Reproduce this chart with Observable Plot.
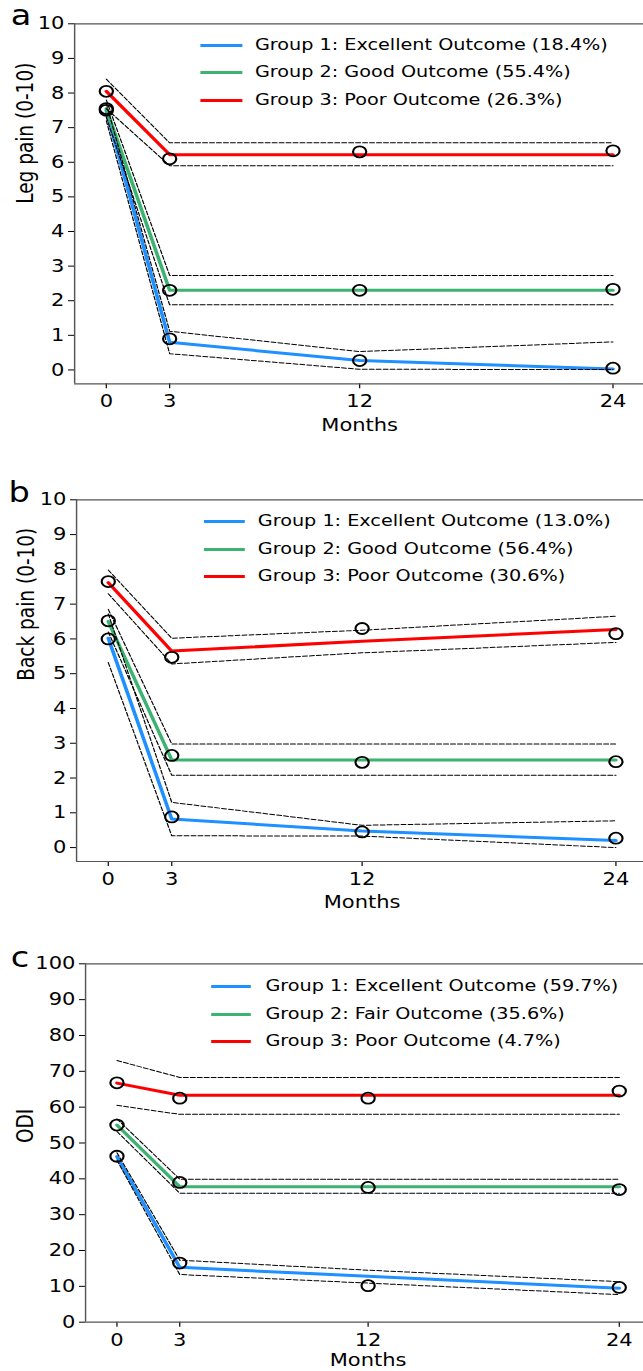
<!DOCTYPE html>
<html><head><meta charset="utf-8">
<script src="https://cdn.jsdelivr.net/npm/d3@7"></script>
<script src="https://cdn.jsdelivr.net/npm/@observablehq/plot@0.6"></script>
<style>
html,body{margin:0;padding:0;background:#fff;overflow:hidden;}
#outer{position:relative;width:643px;height:1371px;overflow:hidden;background:#fff;}
#stretch{position:absolute;left:0;top:0;width:535.83px;height:1371px;transform:scaleX(1.2);transform-origin:0 0;font-family:"DejaVu Sans";}
.panel{position:absolute;left:0;}
.panel svg{overflow:visible;}
.legend-row{position:absolute;display:flex;align-items:center;height:20px;font-size:16px;white-space:nowrap;color:#000;font-family:"DejaVu Sans";}
.swatch{display:inline-block;height:3px;}
.letter{position:absolute;font-size:28px;line-height:1;color:#000;font-family:"DejaVu Sans";}
</style></head><body>
<div id="outer"><div id="stretch"></div></div>
<script>
const months = [0, 3, 12, 24];
const groups = ["Group 1", "Group 2", "Group 3"];
const colors = ["#1e90ff", "#3cb371", "#ff0000"];

// Panel a: Leg pain
const legFit = [[7.5, 0.8, 0.27, 0.03], [7.55, 2.3, 2.3, 2.3], [8.05, 6.22, 6.22, 6.22]];
const legObs = [[7.5, 0.9, 0.27, 0.05], [7.55, 2.3, 2.3, 2.33], [8.05, 6.1, 6.3, 6.33]];
const legLo = [[7.2, 0.47, 0.02, 0.01], [7.3, 1.88, 1.88, 1.88], [7.55, 5.9, 5.9, 5.9]];
const legHi = [[7.7, 1.12, 0.53, 0.81], [7.8, 2.73, 2.73, 2.73], [8.4, 6.56, 6.56, 6.56]];
const legLabels = ["Group 1: Excellent Outcome (18.4%)", "Group 2: Good Outcome (55.4%)", "Group 3: Poor Outcome (26.3%)"];

// Panel b: Back pain
const backFit = [[6.02, 0.82, 0.48, 0.2], [6.5, 2.52, 2.52, 2.52], [7.62, 5.65, 5.93, 6.27]];
const backObs = [[6.0, 0.88, 0.45, 0.27], [6.52, 2.65, 2.45, 2.47], [7.65, 5.47, 6.3, 6.15]];
const backLo = [[5.32, 0.34, 0.33, 0.0], [6.2, 2.08, 2.08, 2.08], [7.3, 5.28, 5.6, 5.9]];
const backHi = [[6.72, 1.3, 0.64, 0.77], [6.85, 2.98, 2.98, 2.98], [7.98, 6.02, 6.25, 6.65]];
const backLabels = ["Group 1: Excellent Outcome (13.0%)", "Group 2: Good Outcome (56.4%)", "Group 3: Poor Outcome (30.6%)"];

// Panel c: ODI
const odiFit = [[46.2, 15.3, 12.8, 9.5], [55, 37.8, 37.8, 37.8], [66.7, 63.3, 63.3, 63.3]];
const odiObs = [[46.3, 16.5, 10.2, 9.7], [55, 39, 37.6, 37], [66.8, 62.5, 62.5, 64.5]];
const odiLo = [[45.2, 13.3, 10.9, 7.7], [53.2, 36, 36, 36], [60.5, 58, 58, 58]];
const odiHi = [[47.3, 17.3, 14.5, 11.3], [56.7, 39.9, 39.9, 39.9], [73, 68.3, 68.3, 68.3]];
const odiLabels = ["Group 1: Excellent Outcome (59.7%)", "Group 2: Fair Outcome (35.6%)", "Group 3: Poor Outcome (4.7%)"];

const painTicks = d3.range(0, 11, 1);
const odiTicks = d3.range(0, 101, 10);
const xDomain = [-1.5, 25.5];
const W = 643 / 1.2;
const spine = "#555";

function rows(arrs, key) {
  const out = [];
  arrs.forEach((arr, g) => arr.forEach((v, i) => out.push({group: groups[g], key: key + g, month: months[i], value: v})));
  return out;
}

function makePanel(cfg) {
  const fitRows = rows(cfg.fit, "fit");
  const obsRows = rows(cfg.obs, "obs");
  const ciRows = rows(cfg.lo, "lo").concat(rows(cfg.hi, "hi"));
  const plot = Plot.plot({
    width: W, height: cfg.height,
    marginTop: cfg.mt, marginBottom: cfg.mb, marginLeft: cfg.ml, marginRight: cfg.mr,
    style: {fontFamily: "DejaVu Sans", fontSize: "17.5px", background: "transparent", color: "#000", overflow: "visible"},
    x: {domain: xDomain, ticks: months, tickFormat: d => String(d), tickSize: 5, tickPadding: 6, label: null},
    y: {domain: cfg.yDomain, ticks: cfg.yTicks, tickFormat: d => String(d), tickSize: 5, tickPadding: 3.5, label: null},
    color: {domain: groups, range: colors},
    marks: [
      Plot.ruleX([xDomain[0]], {stroke: spine, strokeWidth: 1.2}),
      Plot.ruleY([cfg.yDomain[0]], {stroke: spine, strokeWidth: 1.2}),
      Plot.ruleY([cfg.yDomain[1]], {stroke: spine, strokeWidth: 1.2}),
      Plot.line(fitRows, {x: "month", y: "value", z: "key", stroke: "group", strokeWidth: 3}),
      Plot.line(ciRows, {x: "month", y: "value", z: "key", stroke: "#000", strokeWidth: 1, strokeDasharray: "4,1.8"}),
      Plot.dot(obsRows, {x: "month", y: "value", r: 5.5, stroke: "#000", strokeWidth: 1.8, fill: "none"}),
      Plot.text([cfg.yLabel], {frameAnchor: "left", rotate: -90, dx: cfg.yLabelDx, lineAnchor: "middle", fontSize: 18.5, fill: "#000"}),
      Plot.text(["Months"], {frameAnchor: "bottom", dy: cfg.monthsDy, lineAnchor: "top", fontSize: 17.5, fill: "#000"})
    ]
  });
  const holder = document.createElement("div");
  holder.className = "panel";
  holder.style.top = cfg.top + "px";
  holder.appendChild(plot);
  const stretch = document.getElementById("stretch");
  stretch.appendChild(holder);

  cfg.labels.forEach((lab, i) => {
    const row = document.createElement("div");
    row.className = "legend-row";
    row.style.left = cfg.legLeft + "px";
    row.style.top = (cfg.legRows[i] - 10 - 1) + "px";
    const sw = document.createElement("span");
    sw.className = "swatch";
    sw.style.width = cfg.legSw + "px";
    sw.style.background = colors[i];
    sw.style.marginRight = cfg.legGap + "px";
    sw.style.position = "relative";
    sw.style.top = "1px";
    const tx = document.createElement("span");
    tx.textContent = lab;
    row.appendChild(sw); row.appendChild(tx);
    stretch.appendChild(row);
  });
  const letter = document.createElement("div");
  letter.className = "letter";
  letter.textContent = cfg.letter;
  letter.style.left = cfg.letterLeft + "px";
  letter.style.top = (cfg.letterBase - 24) + "px";
  stretch.appendChild(letter);
}

makePanel({fit: legFit, obs: legObs, lo: legLo, hi: legHi, labels: legLabels,
  yDomain: [-0.4, 10], yTicks: painTicks, yLabel: "Leg pain (0-10)", yLabelDx: -41,
  top: 0, height: 440, mt: 23.3, mb: 56.7, ml: 61.7, mr: -0.9, monthsDy: 34.4,
  legLeft: 166.7, legSw: 35, legGap: 10.8, legRows: [45, 72.7, 100.7],
  letter: "a", letterLeft: 9, letterBase: 26});

makePanel({fit: backFit, obs: backObs, lo: backLo, hi: backHi, labels: backLabels,
  yDomain: [-0.4, 10], yTicks: painTicks, yLabel: "Back pain (0-10)", yLabelDx: -41.6,
  top: 440, height: 460, mt: 59.3, mb: 39, ml: 63.3, mr: -3.4, monthsDy: 34.4,
  legLeft: 169.7, legSw: 34.2, legGap: 11, legRows: [521.7, 549.3, 576.7],
  letter: "b", letterLeft: 7, letterBase: 503});

makePanel({fit: odiFit, obs: odiObs, lo: odiLo, hi: odiHi, labels: odiLabels,
  yDomain: [0, 100], yTicks: odiTicks, yLabel: "ODI", yLabelDx: -49.6,
  top: 900, height: 471, mt: 63.3, mb: 49.3, ml: 70.8, mr: -5.9, monthsDy: 31.5,
  legLeft: 175.8, legSw: 33.4, legGap: 12, legRows: [986.7, 1014.3, 1041.7],
  letter: "c", letterLeft: 9, letterBase: 968});
</script>
</body></html>
